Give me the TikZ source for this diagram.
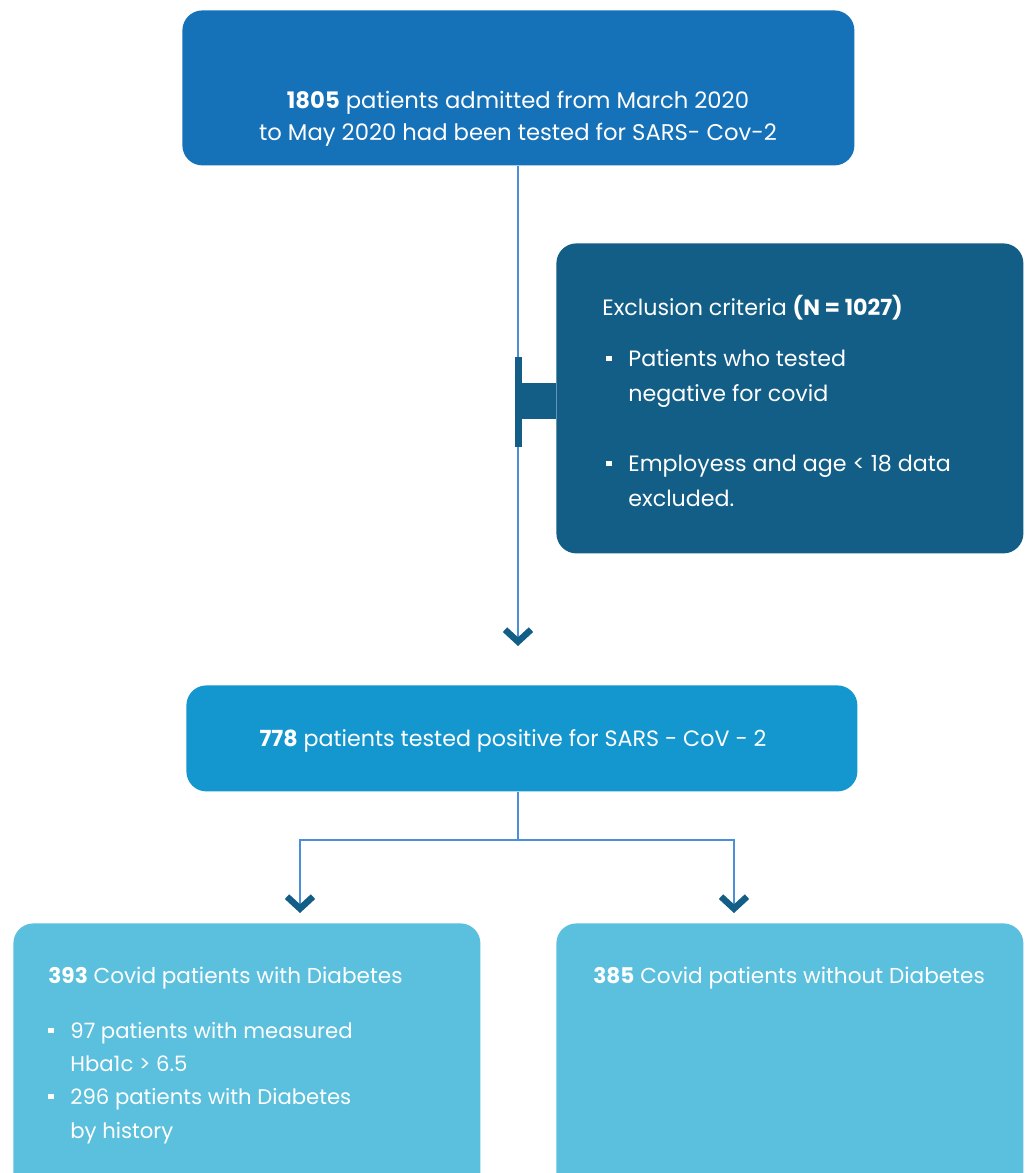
\documentclass[tikz,border=0pt]{standalone}
\usepackage{fontspec}
\setmainfont{Poppins}
\usetikzlibrary{arrows.meta,positioning}
\definecolor{topblue}{HTML}{1571B8}
\definecolor{darkblue}{HTML}{125E86}
\definecolor{midblue}{HTML}{1496CF}
\definecolor{lightblue}{HTML}{5BC0DE}
\definecolor{linkblue}{HTML}{4A8FD8}
\newcommand{\sqb}{\makebox[11pt][l]{\raisebox{0.22em}{\rule{2.6pt}{2.6pt}}}}
\tikzset{
  boxstyle/.style={draw=none,rounded corners=10pt,inner sep=0pt,anchor=north west},
  txt/.style={text=white,inner sep=0pt,font=\fontsize{11.1}{14}\selectfont},
  txttop/.style={txt,font=\fontsize{11.35}{14}\selectfont},
  txtbot/.style={txt,font=\fontsize{10.8}{14}\selectfont},
  txtbul/.style={txt,font=\fontsize{10.6}{14}\selectfont},
  link/.style={draw=linkblue,line width=1pt,-{Straight Barb[length=6pt,width=13pt,line width=3.2pt,color=darkblue]}},
  plainlink/.style={draw=linkblue,line width=1pt}
}
\begin{document}
\begin{tikzpicture}[x=0.5pt,y=-0.5pt]
\useasboundingbox (0,0) rectangle (1027,1173);
\clip (0,0) rectangle (1027,1173);
\fill[white] (0,0) rectangle (1027,1173);
% boxes
\node[boxstyle,fill=topblue,minimum width=336pt,minimum height=77.5pt] (top) at (182,10) {};
\node[boxstyle,fill=darkblue,minimum width=233.5pt,minimum height=155pt] (excl) at (556,243) {};
\node[boxstyle,fill=midblue,minimum width=335.5pt,minimum height=53pt] (mid) at (186,685) {};
\node[boxstyle,fill=lightblue,minimum width=233.5pt,minimum height=150pt] (diab) at (13,923) {};
\node[boxstyle,fill=lightblue,minimum width=233.5pt,minimum height=150pt] (nodiab) at (556,923) {};
% connectors
\coordinate (a1) at (518,646);
\draw[link] (top.south -| a1) -- (a1);
\fill[darkblue] (515,357) rectangle (522,447);
\fill[darkblue] (522,383) rectangle (excl.west |- 0,419);
\coordinate (split) at (518,840);
\coordinate (a2) at (300,913);
\coordinate (a3) at (734,913);
\draw[plainlink] (mid.south -| split) -- (split);
\draw[link] (split) -| (a2);
\draw[link] (split) -| (a3);
% texts
\node[txttop,anchor=base] (t1) at (518,108) {\textbf{1805} patients admitted from March 2020};
\node[txttop,anchor=base] (t2) at (518,140) {to May 2020 had been tested for SARS- Cov-2};
\node[txt,anchor=base west] (e0) at (602,315) {Exclusion criteria \textbf{(N = 1027)}};
\node[txt,anchor=base west] (e1) at (606,366) {\sqb Patients who tested};
\node[txt,anchor=base west] (e2) at (628,401) {negative for covid};
\node[txt,anchor=base west] (e3) at (606,471) {\sqb Employess and age < 18 data};
\node[txt,anchor=base west] (e4) at (628,506) {excluded.};
\node[txt,anchor=base] (m1) at (513,746) {\textbf{778} patients tested positive for SARS - CoV - 2};
\node[txtbot,anchor=base west] (d0) at (48,983) {\textbf{393} Covid patients with Diabetes};
\node[txtbul,anchor=base west] (d1) at (48,1038) {\sqb 97 patients with measured};
\node[txtbul,anchor=base west] (d2) at (70,1071) {Hba1c > 6.5};
\node[txtbul,anchor=base west] (d3) at (48,1104) {\sqb 296 patients with Diabetes};
\node[txtbul,anchor=base west] (d4) at (70,1138) {by history};
\node[txtbot,anchor=base west] (n0) at (593,983) {\textbf{385} Covid patients without Diabetes};
\end{tikzpicture}
\end{document}
